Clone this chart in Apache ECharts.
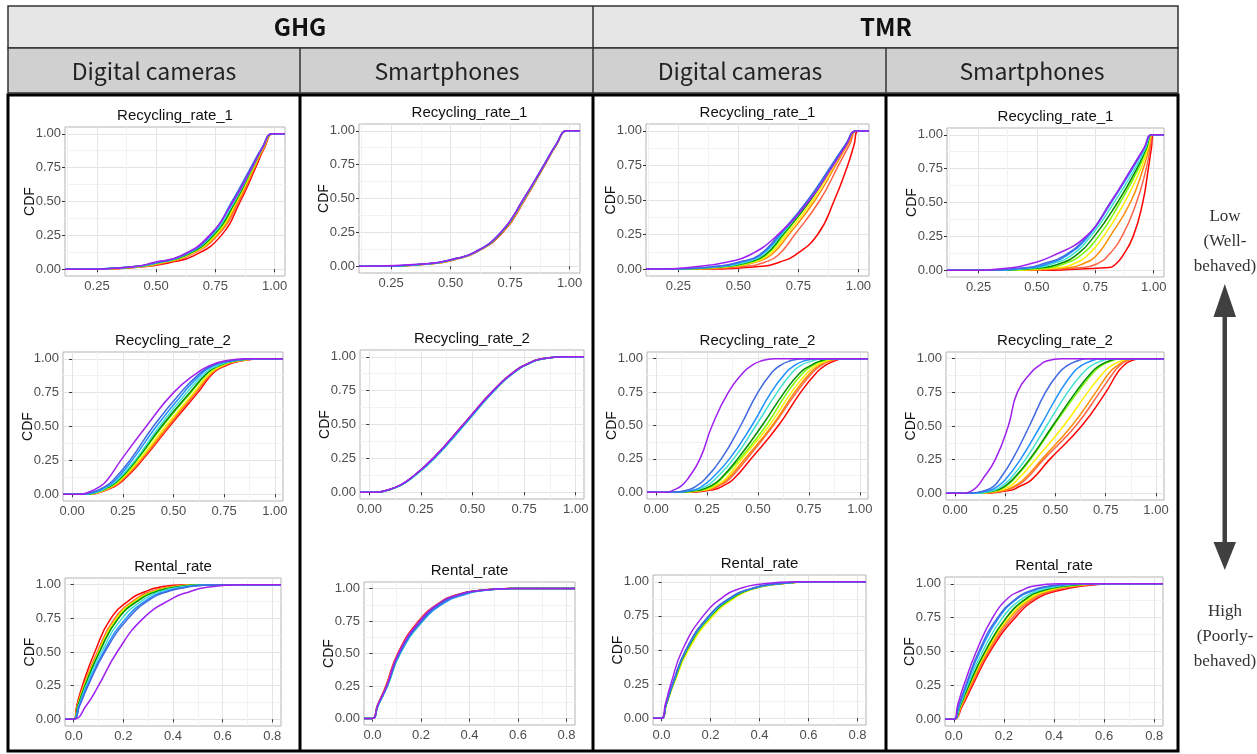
<!DOCTYPE html>
<html>
<head>
<meta charset="utf-8">
<script src="https://cdn.jsdelivr.net/npm/echarts@6/dist/echarts.min.js"></script>
<style>
  html, body { margin: 0; padding: 0; background: #fff; }
  #chart { width: 1257px; height: 754px; }
</style>
</head>
<body>
<div id="chart"></div>
<script>
// scenario colours, red -> purple
const lineColors = ['#FF0000', '#FF6347', '#FF8C00', '#FFEE00', '#7CFC00', '#008B00', '#40E0D0', '#1E90FF', '#4169E1', '#A020F0'];

const levelsRec1 = [0, 0.02, 0.05, 0.1, 0.25, 0.5, 0.75, 0.9, 1];
const levelsRec2 = [0, 0.02, 0.05, 0.1, 0.25, 0.5, 0.75, 0.9, 0.95, 0.98, 1];
const levelsRent = [0, 0.1, 0.25, 0.5, 0.75, 0.9, 0.95, 0.98, 1];

// x values (one row per colour) at those levels
const ghgCamRec1 = [
    [0.24, 0.46, 0.56, 0.66, 0.775, 0.855, 0.92, 0.958, 0.995],
    [0.22, 0.45, 0.54, 0.64, 0.76, 0.85, 0.915, 0.955, 0.995],
    [0.21, 0.44, 0.53, 0.63, 0.755, 0.845, 0.915, 0.955, 0.995],
    [0.20, 0.43, 0.52, 0.63, 0.75, 0.84, 0.91, 0.953, 0.993],
    [0.19, 0.43, 0.52, 0.625, 0.745, 0.835, 0.91, 0.952, 0.993],
    [0.19, 0.42, 0.51, 0.62, 0.74, 0.835, 0.905, 0.95, 0.992],
    [0.18, 0.42, 0.51, 0.615, 0.735, 0.83, 0.905, 0.95, 0.992],
    [0.17, 0.41, 0.50, 0.61, 0.73, 0.82, 0.90, 0.948, 0.99],
    [0.17, 0.41, 0.50, 0.61, 0.73, 0.822, 0.90, 0.948, 0.99],
    [0.16, 0.41, 0.49, 0.605, 0.725, 0.825, 0.905, 0.95, 0.99]
];
const ghgPhoneRec1 = [
    [0.17, 0.43, 0.52, 0.605, 0.72, 0.815, 0.897, 0.946, 0.99],
    [0.17, 0.43, 0.515, 0.603, 0.718, 0.813, 0.896, 0.946, 0.99],
    [0.16, 0.425, 0.515, 0.602, 0.717, 0.812, 0.896, 0.945, 0.99],
    [0.16, 0.425, 0.512, 0.601, 0.716, 0.812, 0.895, 0.945, 0.99],
    [0.16, 0.42, 0.51, 0.60, 0.715, 0.811, 0.895, 0.945, 0.99],
    [0.16, 0.42, 0.51, 0.60, 0.715, 0.81, 0.895, 0.945, 0.99],
    [0.16, 0.42, 0.51, 0.60, 0.713, 0.81, 0.894, 0.944, 0.99],
    [0.16, 0.415, 0.505, 0.598, 0.712, 0.808, 0.893, 0.944, 0.99],
    [0.16, 0.415, 0.505, 0.598, 0.712, 0.808, 0.893, 0.944, 0.99],
    [0.15, 0.41, 0.505, 0.597, 0.712, 0.808, 0.894, 0.944, 0.99]
];
const tmrCamRec1 = [
    [0.30, 0.60, 0.67, 0.735, 0.83, 0.90, 0.955, 0.982, 1.0],
    [0.27, 0.53, 0.61, 0.665, 0.735, 0.84, 0.917, 0.963, 0.995],
    [0.25, 0.49, 0.57, 0.635, 0.71, 0.82, 0.905, 0.955, 0.995],
    [0.24, 0.47, 0.56, 0.625, 0.70, 0.81, 0.898, 0.95, 0.993],
    [0.23, 0.46, 0.55, 0.615, 0.69, 0.80, 0.893, 0.948, 0.993],
    [0.23, 0.45, 0.54, 0.61, 0.685, 0.80, 0.892, 0.948, 0.993],
    [0.22, 0.44, 0.53, 0.60, 0.68, 0.795, 0.89, 0.947, 0.992],
    [0.21, 0.42, 0.51, 0.59, 0.675, 0.79, 0.888, 0.946, 0.992],
    [0.20, 0.41, 0.50, 0.585, 0.67, 0.79, 0.888, 0.946, 0.992],
    [0.16, 0.34, 0.45, 0.545, 0.665, 0.797, 0.895, 0.95, 0.99]
];
const tmrPhoneRec1 = [
    [0.40, 0.81, 0.84, 0.865, 0.912, 0.953, 0.977, 0.99, 1.0],
    [0.33, 0.70, 0.76, 0.80, 0.864, 0.926, 0.968, 0.985, 0.998],
    [0.30, 0.64, 0.70, 0.75, 0.813, 0.90, 0.955, 0.98, 0.997],
    [0.28, 0.60, 0.66, 0.71, 0.785, 0.875, 0.945, 0.975, 0.996],
    [0.26, 0.56, 0.62, 0.68, 0.764, 0.856, 0.935, 0.97, 0.995],
    [0.25, 0.53, 0.60, 0.66, 0.745, 0.845, 0.928, 0.968, 0.995],
    [0.24, 0.50, 0.57, 0.64, 0.73, 0.83, 0.92, 0.965, 0.994],
    [0.23, 0.48, 0.55, 0.62, 0.72, 0.818, 0.91, 0.96, 0.993],
    [0.22, 0.46, 0.53, 0.61, 0.715, 0.815, 0.905, 0.958, 0.993],
    [0.18, 0.40, 0.475, 0.56, 0.71, 0.815, 0.905, 0.958, 0.993]
];
const ghgCamRec2 = [
    [0.08, 0.15, 0.20, 0.25, 0.345, 0.48, 0.62, 0.70, 0.76, 0.82, 0.94],
    [0.08, 0.145, 0.195, 0.245, 0.34, 0.475, 0.61, 0.695, 0.75, 0.81, 0.93],
    [0.07, 0.14, 0.19, 0.24, 0.335, 0.47, 0.605, 0.69, 0.745, 0.80, 0.93],
    [0.07, 0.14, 0.185, 0.235, 0.33, 0.46, 0.60, 0.685, 0.74, 0.80, 0.92],
    [0.07, 0.135, 0.18, 0.23, 0.32, 0.445, 0.585, 0.675, 0.73, 0.79, 0.92],
    [0.06, 0.13, 0.175, 0.225, 0.315, 0.44, 0.58, 0.67, 0.725, 0.785, 0.91],
    [0.06, 0.13, 0.17, 0.22, 0.31, 0.43, 0.565, 0.66, 0.72, 0.78, 0.90],
    [0.05, 0.12, 0.16, 0.21, 0.295, 0.415, 0.55, 0.645, 0.70, 0.77, 0.90],
    [0.05, 0.11, 0.155, 0.20, 0.285, 0.40, 0.535, 0.635, 0.69, 0.76, 0.89],
    [0.04, 0.09, 0.13, 0.17, 0.24, 0.365, 0.50, 0.62, 0.68, 0.74, 0.86]
];
const ghgPhoneRec2 = [
    [0.03, 0.10, 0.15, 0.20, 0.31, 0.455, 0.60, 0.71, 0.77, 0.82, 0.95],
    [0.03, 0.10, 0.15, 0.20, 0.31, 0.457, 0.60, 0.71, 0.77, 0.82, 0.95],
    [0.03, 0.10, 0.15, 0.20, 0.312, 0.458, 0.602, 0.712, 0.77, 0.82, 0.95],
    [0.03, 0.10, 0.15, 0.20, 0.312, 0.46, 0.603, 0.712, 0.772, 0.822, 0.95],
    [0.03, 0.10, 0.152, 0.202, 0.315, 0.462, 0.605, 0.715, 0.774, 0.825, 0.95],
    [0.03, 0.10, 0.15, 0.20, 0.312, 0.46, 0.603, 0.712, 0.772, 0.822, 0.95],
    [0.03, 0.10, 0.152, 0.203, 0.316, 0.463, 0.606, 0.716, 0.775, 0.826, 0.95],
    [0.03, 0.10, 0.15, 0.20, 0.313, 0.46, 0.604, 0.714, 0.773, 0.824, 0.95],
    [0.03, 0.10, 0.15, 0.20, 0.311, 0.458, 0.602, 0.712, 0.772, 0.822, 0.95],
    [0.03, 0.095, 0.145, 0.197, 0.308, 0.455, 0.60, 0.71, 0.77, 0.82, 0.95]
];
const tmrCamRec2 = [
    [0.12, 0.28, 0.33, 0.38, 0.465, 0.60, 0.71, 0.79, 0.83, 0.87, 0.92],
    [0.11, 0.26, 0.31, 0.36, 0.445, 0.575, 0.69, 0.77, 0.81, 0.85, 0.91],
    [0.10, 0.25, 0.30, 0.35, 0.435, 0.57, 0.68, 0.76, 0.80, 0.84, 0.90],
    [0.10, 0.24, 0.29, 0.34, 0.42, 0.555, 0.665, 0.745, 0.785, 0.83, 0.89],
    [0.09, 0.23, 0.28, 0.32, 0.41, 0.54, 0.645, 0.725, 0.77, 0.81, 0.87],
    [0.09, 0.22, 0.27, 0.315, 0.40, 0.52, 0.63, 0.71, 0.76, 0.80, 0.86],
    [0.08, 0.20, 0.25, 0.29, 0.38, 0.49, 0.595, 0.67, 0.71, 0.76, 0.82],
    [0.08, 0.19, 0.23, 0.27, 0.36, 0.47, 0.565, 0.64, 0.68, 0.72, 0.79],
    [0.07, 0.16, 0.20, 0.24, 0.32, 0.415, 0.50, 0.57, 0.61, 0.65, 0.72],
    [0.05, 0.09, 0.125, 0.155, 0.215, 0.275, 0.355, 0.43, 0.47, 0.51, 0.58]
];
const tmrPhoneRec2 = [
    [0.10, 0.27, 0.32, 0.38, 0.47, 0.63, 0.75, 0.81, 0.84, 0.87, 0.92],
    [0.10, 0.25, 0.30, 0.35, 0.44, 0.60, 0.72, 0.79, 0.82, 0.85, 0.90],
    [0.09, 0.24, 0.29, 0.34, 0.43, 0.58, 0.70, 0.77, 0.81, 0.84, 0.89],
    [0.09, 0.22, 0.27, 0.31, 0.40, 0.54, 0.66, 0.74, 0.78, 0.82, 0.87],
    [0.08, 0.20, 0.25, 0.29, 0.375, 0.49, 0.61, 0.69, 0.73, 0.77, 0.83],
    [0.08, 0.20, 0.245, 0.285, 0.37, 0.485, 0.60, 0.68, 0.72, 0.76, 0.82],
    [0.07, 0.19, 0.23, 0.27, 0.35, 0.455, 0.56, 0.64, 0.68, 0.72, 0.78],
    [0.07, 0.17, 0.21, 0.25, 0.325, 0.425, 0.52, 0.59, 0.63, 0.67, 0.73],
    [0.06, 0.15, 0.19, 0.22, 0.285, 0.37, 0.45, 0.52, 0.56, 0.60, 0.66],
    [0.04, 0.085, 0.11, 0.135, 0.20, 0.265, 0.31, 0.38, 0.42, 0.45, 0.53]
];
const ghgCamRental = [
    [0, 0.012, 0.035, 0.085, 0.15, 0.235, 0.29, 0.34, 0.45],
    [0, 0.014, 0.04, 0.095, 0.165, 0.255, 0.31, 0.37, 0.48],
    [0, 0.015, 0.042, 0.098, 0.17, 0.26, 0.32, 0.38, 0.50],
    [0, 0.016, 0.043, 0.10, 0.172, 0.265, 0.325, 0.39, 0.51],
    [0, 0.017, 0.045, 0.102, 0.178, 0.27, 0.33, 0.40, 0.52],
    [0, 0.017, 0.046, 0.104, 0.18, 0.275, 0.335, 0.40, 0.52],
    [0, 0.02, 0.05, 0.112, 0.195, 0.29, 0.35, 0.42, 0.54],
    [0, 0.022, 0.055, 0.12, 0.21, 0.305, 0.37, 0.44, 0.56],
    [0, 0.024, 0.058, 0.125, 0.22, 0.315, 0.38, 0.45, 0.57],
    [0, 0.05, 0.10, 0.175, 0.28, 0.40, 0.47, 0.53, 0.67]
];
const ghgPhoneRental = [
    [0, 0.02, 0.055, 0.104, 0.19, 0.283, 0.345, 0.42, 0.57],
    [0, 0.021, 0.057, 0.106, 0.193, 0.285, 0.347, 0.42, 0.57],
    [0, 0.021, 0.058, 0.108, 0.196, 0.287, 0.35, 0.42, 0.58],
    [0, 0.022, 0.06, 0.11, 0.2, 0.292, 0.355, 0.425, 0.58],
    [0, 0.023, 0.062, 0.114, 0.207, 0.30, 0.365, 0.43, 0.58],
    [0, 0.022, 0.06, 0.11, 0.2, 0.29, 0.352, 0.42, 0.58],
    [0, 0.023, 0.062, 0.115, 0.208, 0.302, 0.368, 0.435, 0.58],
    [0, 0.023, 0.061, 0.113, 0.206, 0.305, 0.375, 0.44, 0.58],
    [0, 0.022, 0.06, 0.111, 0.202, 0.296, 0.36, 0.43, 0.58],
    [0, 0.021, 0.058, 0.107, 0.195, 0.286, 0.35, 0.42, 0.57]
];
const tmrCamRental = [
    [0, 0.018, 0.046, 0.10, 0.195, 0.30, 0.37, 0.45, 0.62],
    [0, 0.018, 0.046, 0.101, 0.197, 0.302, 0.372, 0.45, 0.62],
    [0, 0.019, 0.048, 0.104, 0.202, 0.308, 0.376, 0.455, 0.62],
    [0, 0.02, 0.05, 0.11, 0.21, 0.315, 0.38, 0.46, 0.63],
    [0, 0.019, 0.048, 0.105, 0.203, 0.308, 0.375, 0.455, 0.62],
    [0, 0.019, 0.047, 0.103, 0.2, 0.305, 0.372, 0.45, 0.62],
    [0, 0.018, 0.046, 0.101, 0.198, 0.30, 0.37, 0.45, 0.61],
    [0, 0.018, 0.045, 0.10, 0.195, 0.298, 0.368, 0.445, 0.61],
    [0, 0.018, 0.045, 0.099, 0.193, 0.295, 0.365, 0.44, 0.61],
    [0, 0.015, 0.038, 0.085, 0.17, 0.26, 0.32, 0.39, 0.55]
];
const tmrPhoneRental = [
    [0, 0.035, 0.075, 0.145, 0.245, 0.34, 0.42, 0.50, 0.64],
    [0, 0.032, 0.07, 0.14, 0.235, 0.33, 0.40, 0.48, 0.62],
    [0, 0.03, 0.066, 0.135, 0.225, 0.32, 0.385, 0.46, 0.60],
    [0, 0.028, 0.063, 0.13, 0.22, 0.31, 0.375, 0.45, 0.59],
    [0, 0.026, 0.06, 0.125, 0.21, 0.30, 0.36, 0.44, 0.58],
    [0, 0.026, 0.06, 0.125, 0.21, 0.295, 0.355, 0.43, 0.57],
    [0, 0.024, 0.055, 0.115, 0.195, 0.28, 0.34, 0.41, 0.55],
    [0, 0.021, 0.05, 0.105, 0.18, 0.26, 0.32, 0.38, 0.52],
    [0, 0.02, 0.048, 0.10, 0.175, 0.255, 0.31, 0.37, 0.50],
    [0, 0.015, 0.04, 0.09, 0.155, 0.22, 0.27, 0.31, 0.42]
];

// axis ranges and tick labels per row
const xRangeRec1 = [0.115, 1.044];
const xRangeRec2 = [-0.045, 1.04];
const xRangeRent = [-0.035, 0.835];
const xTicksRec1 = [0.25, 0.5, 0.75, 1.0];
const xMinorRec1 = [0.125, 0.375, 0.625, 0.875];
const xTicksRec2 = [0, 0.25, 0.5, 0.75, 1.0];
const xMinorRec2 = [0.125, 0.375, 0.625, 0.875];
const xTicksRent = [0, 0.2, 0.4, 0.6, 0.8];
const xMinorRent = [0.1, 0.3, 0.5, 0.7];
const yTicks = [0, 0.25, 0.5, 0.75, 1.0];
const yMinor = [0.125, 0.375, 0.625, 0.875];

const headerTop = ['GHG', 'TMR'];
const headerSub = ['Digital cameras', 'Smartphones', 'Digital cameras', 'Smartphones'];
const rowTitles = ['Recycling_rate_1', 'Recycling_rate_2', 'Rental_rate'];

const rows = [
    { title: rowTitles[0], levels: levelsRec1, range: xRangeRec1, ticks: xTicksRec1, minor: xMinorRec1, digits: 2,
      panels: [ghgCamRec1, ghgPhoneRec1, tmrCamRec1, tmrPhoneRec1] },
    { title: rowTitles[1], levels: levelsRec2, range: xRangeRec2, ticks: xTicksRec2, minor: xMinorRec2, digits: 2,
      panels: [ghgCamRec2, ghgPhoneRec2, tmrCamRec2, tmrPhoneRec2] },
    { title: rowTitles[2], levels: levelsRent, range: xRangeRent, ticks: xTicksRent, minor: xMinorRent, digits: 1,
      panels: [ghgCamRental, ghgPhoneRental, tmrCamRental, tmrPhoneRental] }
];

// plot rectangles [left, top, right, bottom] in px
const panelBoxes = [
    [[65, 127, 285, 276], [359, 124, 580, 273], [646, 124, 869, 276], [947, 128, 1164, 277]],
    [[63, 352, 283, 501], [360, 350, 584, 499], [647, 352, 868, 499], [946, 352, 1164, 500]],
    [[65, 578, 281, 726], [364, 582, 575, 725], [653, 575, 866, 725], [945, 577, 1163, 726]]
];

const sansFont = '"Liberation Sans", Arial, sans-serif';
const headFont = '"Noto Sans CJK JP", "Noto Sans", sans-serif';
const serifFont = '"Liberation Serif", "Times New Roman", serif';

const grids = [], xAxes = [], yAxes = [], series = [], graphics = [];

function addAxisPair(list, base, gridIndex, range, ticks, minor, digits) {
    list.push(Object.assign({
        type: 'value', gridIndex: gridIndex, min: range[0], max: range[1],
        axisLine: { show: false },
        axisTick: { show: true, length: 3, customValues: ticks, lineStyle: { color: '#333', width: 1 } },
        axisLabel: {
            customValues: ticks,
            formatter: v => Number(v).toFixed(digits),
            color: '#4d4d4d', fontSize: 13, fontFamily: sansFont, margin: 4
        },
        splitLine: { show: true, lineStyle: { color: '#e4e4e4', width: 1 } }
    }, base));
    list.push({
        type: 'value', gridIndex: gridIndex, min: range[0], max: range[1],
        axisLine: { show: false },
        axisTick: { show: false, customValues: minor },
        axisLabel: { show: false },
        splitLine: { show: true, lineStyle: { color: '#f2f2f2', width: 1 } }
    });
}

let gi = 0;
rows.forEach((row, r) => {
    row.panels.forEach((curves, c) => {
        const box = panelBoxes[r][c];
        grids.push({
            left: box[0], top: box[1], width: box[2] - box[0], height: box[3] - box[1],
            show: true, borderColor: '#b3b3b3', borderWidth: 1, backgroundColor: '#fff'
        });
        addAxisPair(xAxes, {}, gi, row.range, row.ticks, row.minor, row.digits);
        addAxisPair(yAxes, {
            name: 'CDF', nameLocation: 'middle', nameGap: 28, nameMoveOverlap: false,
            nameTextStyle: { color: '#111', fontSize: 14, fontFamily: sansFont }
        }, gi, [-0.05, 1.05], yTicks, yMinor, 2);

        curves.forEach((xs, k) => {
            const pts = [[row.range[0], 0]];
            xs.forEach((x, j) => pts.push([x, row.levels[j]]));
            pts.push([row.range[1], 1]);
            series.push({
                type: 'line', xAxisIndex: gi * 2, yAxisIndex: gi * 2,
                data: pts, showSymbol: false, symbol: 'none', smooth: 0.5,
                silent: true, animation: false,
                lineStyle: { color: lineColors[k], width: 1.5 }
            });
        });

        graphics.push({
            type: 'text', z: 10,
            style: { text: row.title, x: (box[0] + box[2]) / 2, y: box[1] - 11,
                     align: 'center', verticalAlign: 'middle',
                     fill: '#111', fontSize: 15, fontFamily: sansFont }
        });
        gi++;
    });
});

// header table
graphics.push({ type: 'rect', shape: { x: 8, y: 6, width: 1170, height: 42 },
    style: { fill: '#e6e6e6', stroke: '#333', lineWidth: 1.5 } });
graphics.push({ type: 'rect', shape: { x: 8, y: 48, width: 1170, height: 45 },
    style: { fill: '#d0d0d0', stroke: '#333', lineWidth: 1.5 } });
graphics.push({ type: 'line', shape: { x1: 593, y1: 6, x2: 593, y2: 93 }, style: { stroke: '#333', lineWidth: 1.5 } });
[300, 886].forEach(x => graphics.push({ type: 'line', shape: { x1: x, y1: 48, x2: x, y2: 93 },
    style: { stroke: '#333', lineWidth: 1.5 } }));
headerTop.forEach((t, i) => graphics.push({ type: 'text',
    style: { text: t, x: i === 0 ? 300 : 886, y: 27, align: 'center', verticalAlign: 'middle',
             fill: '#111', fontSize: 24, fontWeight: 'bold', fontFamily: headFont } }));
const subCenters = [154, 447, 740, 1032];
headerSub.forEach((t, i) => graphics.push({ type: 'text',
    style: { text: t, x: subCenters[i], y: 71, align: 'center', verticalAlign: 'middle',
             fill: '#222', fontSize: 23, fontFamily: headFont } }));

// thick frame around the panel block
graphics.push({ type: 'rect', z: 20, shape: { x: 8, y: 95, width: 1170, height: 656 },
    style: { fill: 'none', stroke: '#000', lineWidth: 3 } });
[300, 593, 886].forEach(x => graphics.push({ type: 'line', z: 20,
    shape: { x1: x, y1: 95, x2: x, y2: 751 }, style: { stroke: '#000', lineWidth: 3 } }));

// right-hand annotation
const sideTop = ['Low', '(Well-', 'behaved)'];
const sideBottom = ['High', '(Poorly-', 'behaved)'];
sideTop.forEach((t, i) => graphics.push({ type: 'text',
    style: { text: t, x: 1225, y: 217 + i * 25, align: 'center', verticalAlign: 'middle',
             fill: '#333', fontSize: 17, fontFamily: serifFont } }));
sideBottom.forEach((t, i) => graphics.push({ type: 'text',
    style: { text: t, x: 1225, y: 612 + i * 25, align: 'center', verticalAlign: 'middle',
             fill: '#333', fontSize: 17, fontFamily: serifFont } }));
graphics.push({ type: 'rect', shape: { x: 1222.5, y: 312, width: 4.5, height: 234 }, style: { fill: '#404040' } });
graphics.push({ type: 'polygon', shape: { points: [[1224.8, 284], [1213.5, 317], [1236, 317]] }, style: { fill: '#404040' } });
graphics.push({ type: 'polygon', shape: { points: [[1224.8, 570], [1213.5, 542], [1236, 542]] }, style: { fill: '#404040' } });

const chart = echarts.init(document.getElementById('chart'), null, { renderer: 'canvas' });
chart.setOption({
    animation: false,
    backgroundColor: '#fff',
    grid: grids,
    xAxis: xAxes,
    yAxis: yAxes,
    series: series,
    graphic: graphics
});
</script>
</body>
</html>
